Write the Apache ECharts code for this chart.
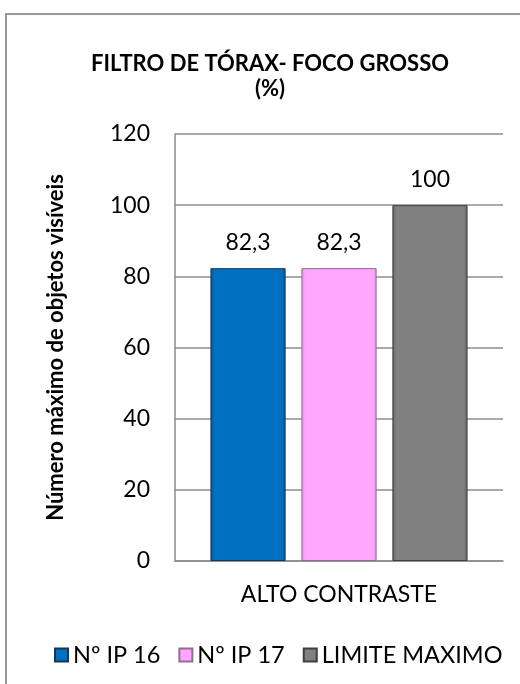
<!DOCTYPE html>
<html><head><meta charset="utf-8">
<script src="https://cdn.jsdelivr.net/npm/echarts@6/dist/echarts.min.js"></script>
<style>html,body{margin:0;padding:0;background:#fff}#c{width:520px;height:684px}</style>
</head><body><div id="c"></div>
<script>
const categories = ['ALTO CONTRASTE'];
const seriesNames = ['Nº IP 16', 'Nº IP 17', 'LIMITE MAXIMO'];
const ip16 = [82.3];
const ip17 = [82.3];
const limite = [100];
const yTicks = [0, 20, 40, 60, 80, 100, 120];

const F = 'Lato, "Open Sans", sans-serif';
function grad(base, dark) {
  return new echarts.graphic.LinearGradient(0, 0, 1, 0, [
    {offset: 0, color: dark}, {offset: 0.05, color: base},
    {offset: 0.95, color: base}, {offset: 1, color: dark}
  ]);
}
const cols = [
  {base: '#0070C0', dark: '#005596', border: '#1c3550'},
  {base: '#FFA6FF', dark: '#dc8edc', border: '#8f6f8f'},
  {base: '#808080', dark: '#606060', border: '#3f3f3f'}
];
const data = [ip16, ip17, limite];
const chart = echarts.init(document.getElementById('c'));
chart.setOption({
  animation: false,
  backgroundColor: '#fff',
  graphic: [{type: 'rect', shape: {x: 6, y: 14, width: 540, height: 700}, style: {fill: 'none', stroke: '#999', lineWidth: 2}}],
  title: {
    text: 'FILTRO DE TÓRAX- FOCO GROSSO\n(%)',
    left: 265, top: 46, textAlign: 'center',
    textStyle: {fontFamily: F, fontSize: 22, fontWeight: 'bold', color: '#000', lineHeight: 25}
  },
  legend: {
    top: 638, left: 49, itemWidth: 13, itemHeight: 13, itemGap: 18,
    textStyle: {fontFamily: F, fontSize: 23.5, color: '#000'},
    data: seriesNames.map(n => ({name: n, icon: 'rect'}))
  },
  grid: {left: 175, right: 17, top: 134, bottom: 123, containLabel: false},
  xAxis: {
    type: 'category', data: categories,
    axisLine: {lineStyle: {color: '#8c8c8c', width: 1.5}}, axisTick: {show: false},
    axisLabel: {fontFamily: F, fontSize: 23, color: '#000', margin: 22}
  },
  yAxis: {
    type: 'value', min: yTicks[0], max: yTicks[yTicks.length - 1], interval: 20,
    name: 'Número máximo de objetos visíveis', nameLocation: 'middle', nameGap: 108, nameRotate: 90,
    nameTextStyle: {fontFamily: F, fontSize: 22, fontWeight: 'bold', color: '#000'},
    axisLine: {show: true, lineStyle: {color: '#8c8c8c', width: 1.5}}, axisTick: {show: false},
    axisLabel: {fontFamily: F, fontSize: 23, color: '#000', margin: 25},
    splitLine: {lineStyle: {color: '#8c8c8c', width: 1.5}}
  },
  series: seriesNames.map((n, i) => ({
    name: n, type: 'bar', data: data[i], barGap: '21%', barCategoryGap: '21.6%',
    itemStyle: {color: grad(cols[i].base, cols[i].dark), borderColor: cols[i].border, borderWidth: 1},
    label: {show: true, position: 'top', distance: 14, fontFamily: F, fontSize: 23, color: '#000',
      formatter: p => String(p.value).replace('.', ',')}
  }))
});
</script></body></html>
